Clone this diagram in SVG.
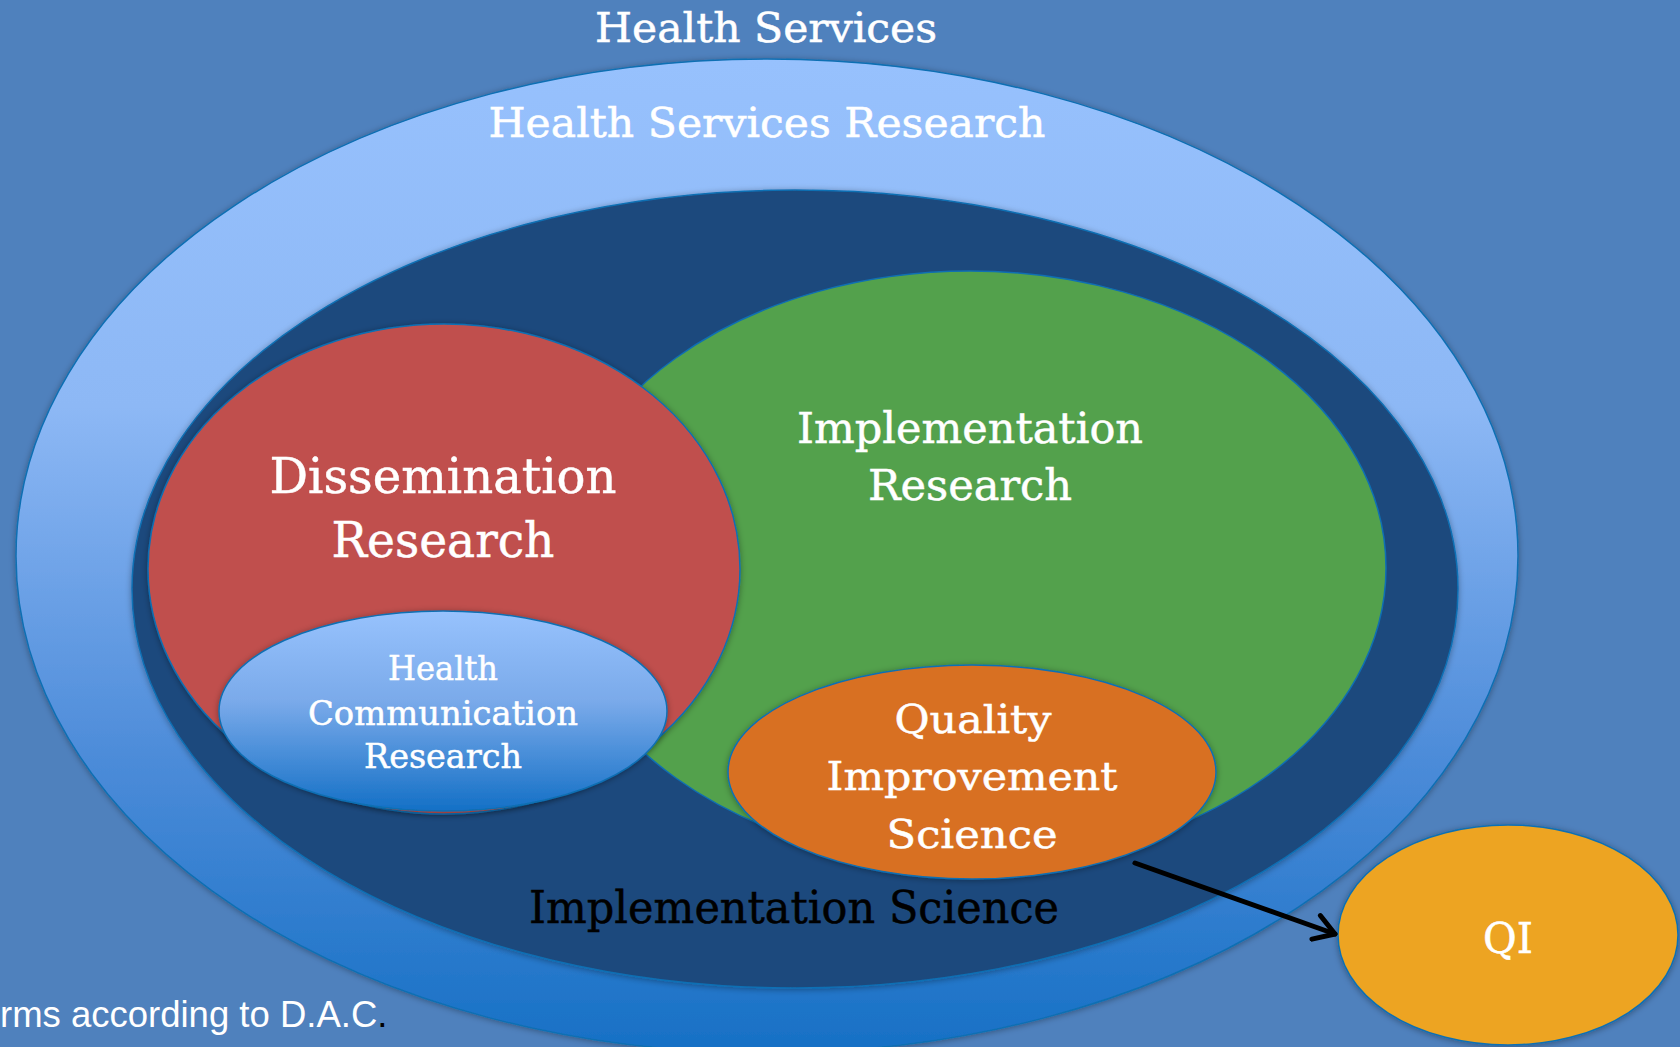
<svg xmlns="http://www.w3.org/2000/svg" width="1680" height="1047" viewBox="0 0 1680 1047">
<style>
.lbl{font-family:"DejaVu Serif","Liberation Serif",serif;fill:#ffffff;text-anchor:middle;stroke:#ffffff;stroke-width:0.5}
.ell{stroke:#0f6fb3;stroke-width:1.5}
.note{font-family:"Liberation Sans",Arial,sans-serif;fill:#ffffff;font-size:36.5px}
</style>
<defs>
<linearGradient id="gOuter" x1="0" y1="0" x2="0" y2="1">
<stop offset="0" stop-color="#97c1fd"/>
<stop offset="0.35" stop-color="#8db8f5"/>
<stop offset="0.7" stop-color="#4d8cd9"/>
<stop offset="1" stop-color="#1670c5"/>
</linearGradient>
<linearGradient id="gHcr" x1="0" y1="0" x2="0" y2="1">
<stop offset="0" stop-color="#97c2fd"/>
<stop offset="0.45" stop-color="#7aaaea"/>
<stop offset="1" stop-color="#1470c6"/>
</linearGradient>
<filter id="sh" x="-10%" y="-10%" width="120%" height="120%">
<feDropShadow dx="0" dy="1" stdDeviation="3" flood-color="#000" flood-opacity="0.35"/>
</filter>
<marker id="arr" viewBox="0 0 12 12" refX="10" refY="6" markerWidth="6" markerHeight="6" orient="auto" markerUnits="strokeWidth">
<path d="M2,1 L10,6 L2,11" fill="none" stroke="#000" stroke-width="2" stroke-linecap="round" stroke-linejoin="round"/>
</marker>
</defs>
<g id="health-services">
<rect x="0" y="0" width="1680" height="1047" fill="#4f81bd"/>
<text class="lbl" x="766" y="42" font-size="41" textLength="342" lengthAdjust="spacingAndGlyphs">Health Services</text>
</g>
<g id="health-services-research">
<ellipse class="ell" cx="767" cy="556" rx="751" ry="497" fill="url(#gOuter)" filter="url(#sh)"/>
<text class="lbl" x="767" y="137" font-size="41" textLength="557" lengthAdjust="spacingAndGlyphs">Health Services Research</text>
</g>
<g id="implementation-science">
<ellipse class="ell" cx="795" cy="589" rx="663" ry="399" fill="#1f497d" filter="url(#sh)"/>
<text x="794" y="923" font-family="DejaVu Serif, Liberation Serif, serif" font-size="45" fill="#000000" stroke="#000000" stroke-width="0.5" text-anchor="middle" textLength="530" lengthAdjust="spacingAndGlyphs">Implementation Science</text>
</g>
<g id="implementation-research">
<ellipse class="ell" cx="970" cy="568" rx="416" ry="297" fill="#53a14c"/>
<text class="lbl" x="970" y="443" font-size="42" textLength="346" lengthAdjust="spacingAndGlyphs">Implementation</text>
<text class="lbl" x="970" y="500" font-size="42" textLength="204" lengthAdjust="spacingAndGlyphs">Research</text>
</g>
<g id="dissemination-research">
<ellipse class="ell" cx="444" cy="569" rx="296" ry="245" fill="#c0504d" filter="url(#sh)"/>
<text class="lbl" x="443" y="493" font-size="48" textLength="347" lengthAdjust="spacingAndGlyphs">Dissemination</text>
<text class="lbl" x="443" y="557" font-size="48" textLength="223" lengthAdjust="spacingAndGlyphs">Research</text>
</g>
<g id="health-communication-research">
<ellipse class="ell" cx="443" cy="711" rx="224" ry="100" fill="url(#gHcr)" filter="url(#sh)"/>
<text class="lbl" x="443" y="680" font-size="33" textLength="110" lengthAdjust="spacingAndGlyphs">Health</text>
<text class="lbl" x="443" y="725" font-size="33" textLength="270" lengthAdjust="spacingAndGlyphs">Communication</text>
<text class="lbl" x="443" y="768" font-size="33" textLength="158" lengthAdjust="spacingAndGlyphs">Research</text>
</g>
<g id="quality-improvement-science">
<ellipse class="ell" cx="972" cy="772" rx="244" ry="107" fill="#d86f22" filter="url(#sh)"/>
<text class="lbl" x="973" y="733" font-size="40" textLength="157" lengthAdjust="spacingAndGlyphs">Quality</text>
<text class="lbl" x="972" y="790" font-size="40" textLength="291" lengthAdjust="spacingAndGlyphs">Improvement</text>
<text class="lbl" x="972" y="848" font-size="40" textLength="171" lengthAdjust="spacingAndGlyphs">Science</text>
</g>
<g id="qi">
<ellipse class="ell" cx="1508" cy="935" rx="170" ry="110" fill="#eda421" filter="url(#sh)"/>
<text class="lbl" x="1508" y="953" font-size="42" textLength="50" lengthAdjust="spacingAndGlyphs">QI</text>
</g>
<g id="connectors">
<line x1="1135" y1="863" x2="1335" y2="934" stroke="#000" stroke-width="5" stroke-linecap="round" marker-end="url(#arr)"/>
</g>
<g id="note">
<text class="note" x="0" y="1027">rms according to D.A.C<tspan fill="#000000">.</tspan></text>
</g>
</svg>
